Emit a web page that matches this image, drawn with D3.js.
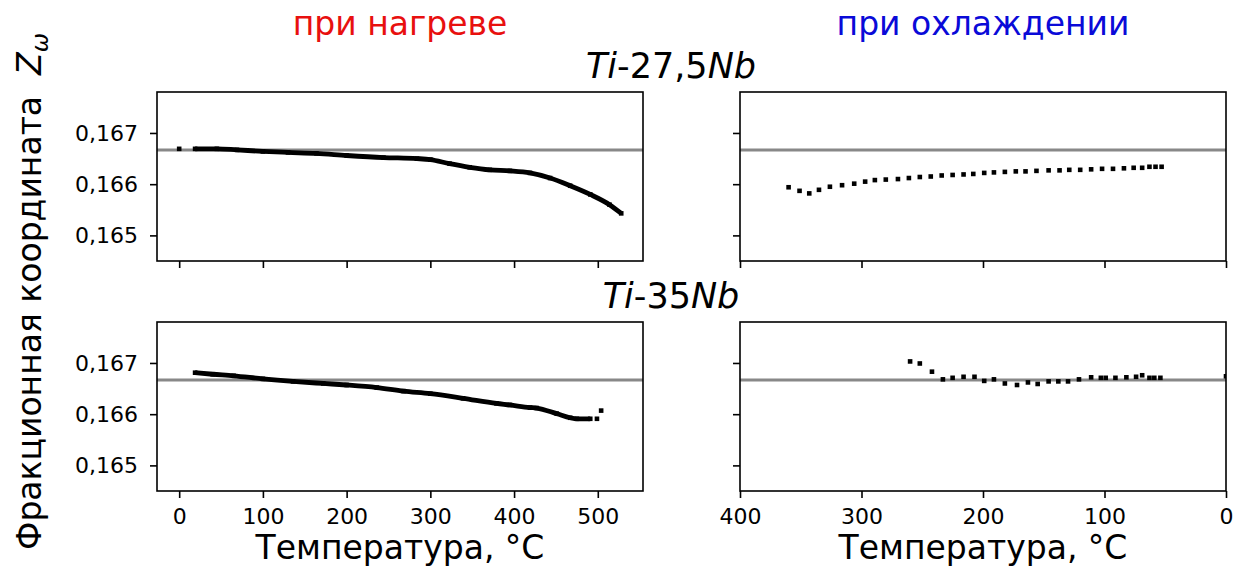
<!DOCTYPE html>
<html lang="ru">
<head>
<meta charset="utf-8">
<title>Фракционная координата Z</title>
<script src="https://d3js.org/d3.v7.min.js"></script>
<style>
  body { margin: 0; background: #fff; }
  text { font-family: "DejaVu Sans", sans-serif; }
</style>
</head>
<body>
<script type="text/javascript">

// tick values
var heatTicks = [0, 100, 200, 300, 400, 500];
var coolTicks = [400, 300, 200, 100, 0];
var zTicks = [0.165, 0.166, 0.167];
var zIdeal = 0.166667;

// Ti-27,5Nb heating (dense curve + a lone first point)
var heat275T = [19, 45, 69, 100, 130, 164, 200, 244, 284, 300, 323, 347, 371, 395, 419, 443, 467, 491, 514, 528];
var heat275Z = [0.16669, 0.16669, 0.16667, 0.16664, 0.16662, 0.16660, 0.16656, 0.16652, 0.16650, 0.16648, 0.16640, 0.16633, 0.16628, 0.16626, 0.16622, 0.16612, 0.16597, 0.16580, 0.16560, 0.16543];
var heat275LoneT = [0];
var heat275LoneZ = [0.16669];

// Ti-27,5Nb cooling
var cool275T = [360, 351, 343, 335, 326, 316, 306, 297, 289, 280, 270, 261, 252, 243, 234, 225, 216, 208, 199, 191, 182, 173, 165, 156, 146, 137, 129, 120, 111, 102, 93, 84, 76, 69, 63, 58, 53];
var cool275Z = [0.16594, 0.16587, 0.16582, 0.16589, 0.16595, 0.16598, 0.16601, 0.16605, 0.16608, 0.16609, 0.16610, 0.16612, 0.16614, 0.16615, 0.16617, 0.16618, 0.16619, 0.16620, 0.16622, 0.16623, 0.16624, 0.16625, 0.16625, 0.16626, 0.16627, 0.16627, 0.16628, 0.16628, 0.16629, 0.16630, 0.16630, 0.16631, 0.16632, 0.16632, 0.16634, 0.16634, 0.16634];

// Ti-35Nb heating
var heat35T = [19, 40, 65, 100, 136, 172, 200, 236, 268, 300, 339, 379, 395, 419, 427, 451, 467, 475, 491];
var heat35Z = [0.16681, 0.16678, 0.16675, 0.16669, 0.16664, 0.16660, 0.16657, 0.16652, 0.16645, 0.16640, 0.16631, 0.16621, 0.16618, 0.16613, 0.16612, 0.16601, 0.16593, 0.16591, 0.16591];
var heat35LoneT = [499, 504];
var heat35LoneZ = [0.16591, 0.16607];

// Ti-35Nb cooling
var cool35T = [260, 252, 242, 233, 225, 216, 207, 199, 191, 182, 172, 163, 155, 146, 138, 130, 121, 111, 103, 99, 91, 82, 74, 69, 63, 59, 54, 0];
var cool35Z = [0.16703, 0.16699, 0.16683, 0.16668, 0.16671, 0.16673, 0.16673, 0.16665, 0.16668, 0.16660, 0.16657, 0.16662, 0.16659, 0.16664, 0.16664, 0.16664, 0.16668, 0.16672, 0.16671, 0.16671, 0.16671, 0.16672, 0.16673, 0.16676, 0.16671, 0.16671, 0.16671, 0.16674];

//canvas
var width = 1240,
    height = 574;

var svg = d3.select("body").append("svg")
    .attr("width", width)
    .attr("height", height);

svg.append("rect")
    .attr("width", width)
    .attr("height", height)
    .attr("fill", "#fff");

//panel boxes
var colX = [157, 740],
    rowY = [92, 322],
    pw = 486,
    ph = 169;

var fmtZ = function(d){ return d3.format(".3f")(d).replace(".", ","); };

var yScale = d3.scaleLinear()
    .domain([0.1645, 0.1678])
    .range([ph, 0]);

var xHeat = d3.scaleLinear()
    .domain([-26.5, 554])
    .range([0, pw]);

var xCool = d3.scaleLinear()
    .domain([400, 0])
    .range([0, pw]);

var sq = 4.6;

function drawPanel(id, px, py, x, ticks, showX, showY, curveT, curveZ, dotT, dotZ){

    var g = svg.append("g")
        .attr("transform", "translate(" + px + "," + py + ")");

    g.append("clipPath").attr("id", id)
        .append("rect").attr("width", pw).attr("height", ph);

    var plot = g.append("g").attr("clip-path", "url(#" + id + ")");

    //1/6 reference line
    plot.append("line")
        .attr("x1", 0).attr("x2", pw)
        .attr("y1", yScale(zIdeal)).attr("y2", yScale(zIdeal))
        .attr("stroke", "#888")
        .attr("stroke-width", 3);

    if (curveT){
        var pts = curveT.map(function(t, i){ return [t, curveZ[i]]; });
        var line = d3.line()
            .curve(d3.curveMonotoneX)
            .x(function(d){ return x(d[0]); })
            .y(function(d){ return yScale(d[1]); });
        plot.append("path")
            .attr("d", line(pts))
            .attr("fill", "none")
            .attr("stroke", "#000")
            .attr("stroke-width", 4.8)
            .attr("stroke-linejoin", "round");
    }

    var dots = dotT.map(function(t, i){ return [t, dotZ[i]]; });
    plot.selectAll("rect.pt")
        .data(dots)
        .enter().append("rect")
        .attr("class", "pt")
        .attr("x", function(d){ return x(d[0]) - sq/2; })
        .attr("y", function(d){ return yScale(d[1]) - sq/2; })
        .attr("width", sq)
        .attr("height", sq)
        .attr("fill", "#000");

    //axes
    var ax = g.append("g")
        .attr("transform", "translate(0," + ph + ")")
        .call(d3.axisBottom(x).tickValues(ticks).tickSize(7).tickPadding(10)
            .tickFormat(showX ? d3.format("d") : ""));
    var ay = g.append("g")
        .call(d3.axisLeft(yScale).tickValues(zTicks).tickSize(7).tickPadding(12)
            .tickFormat(showY ? fmtZ : ""));

    [ax, ay].forEach(function(a){
        a.select(".domain").remove();
        a.selectAll(".tick line").attr("stroke", "#000").attr("stroke-width", 1.6);
        a.selectAll(".tick text")
            .attr("fill", "#000")
            .style("font-size", "22px")
            .style("font-family", "'DejaVu Sans', sans-serif");
    });

    //frame
    g.append("rect")
        .attr("width", pw)
        .attr("height", ph)
        .attr("fill", "none")
        .attr("stroke", "#000")
        .attr("stroke-width", 1.6);
}

drawPanel("c1", colX[0], rowY[0], xHeat, heatTicks, false, true, heat275T, heat275Z, heat275LoneT.concat(heat275T), heat275LoneZ.concat(heat275Z));
drawPanel("c2", colX[1], rowY[0], xCool, coolTicks, false, false, null, null, cool275T, cool275Z);
drawPanel("c3", colX[0], rowY[1], xHeat, heatTicks, true, true, heat35T, heat35Z, heat35T.concat(heat35LoneT), heat35Z.concat(heat35LoneZ));
drawPanel("c4", colX[1], rowY[1], xCool, coolTicks, true, false, null, null, cool35T, cool35Z);

//column titles
svg.append("text")
    .attr("x", colX[0] + pw/2).attr("y", 35)
    .attr("text-anchor", "middle")
    .attr("fill", "#e8100f")
    .style("font-size", "33px")
    .text("при нагреве");

svg.append("text")
    .attr("x", colX[1] + pw/2).attr("y", 35)
    .attr("text-anchor", "middle")
    .attr("fill", "#0a0ad8")
    .style("font-size", "33px")
    .text("при охлаждении");

//alloy titles
function alloy(y, mid){
    var t = svg.append("text")
        .attr("x", 671).attr("y", y)
        .attr("text-anchor", "middle")
        .style("font-size", "35px");
    t.append("tspan").style("font-style", "italic").text("Ti");
    t.append("tspan").text(mid);
    t.append("tspan").style("font-style", "italic").text("Nb");
}
alloy(78, "-27,5");
alloy(308, "-35");

//x labels
[0, 1].forEach(function(c){
    svg.append("text")
        .attr("x", colX[c] + pw/2).attr("y", 559)
        .attr("text-anchor", "middle")
        .style("font-size", "33px")
        .text("Температура, °C");
});

//y label
var yl = svg.append("text")
    .attr("transform", "translate(41,550) rotate(-90)")
    .style("font-size", "33px");
yl.append("tspan").text("Фракционная координата\u00a0\u00a0");
yl.append("tspan").style("font-style", "italic").text("Z");
yl.append("tspan").style("font-style", "italic").style("font-size", "23px")
    .attr("dy", 7).text("ω");

</script>
</body>
</html>
